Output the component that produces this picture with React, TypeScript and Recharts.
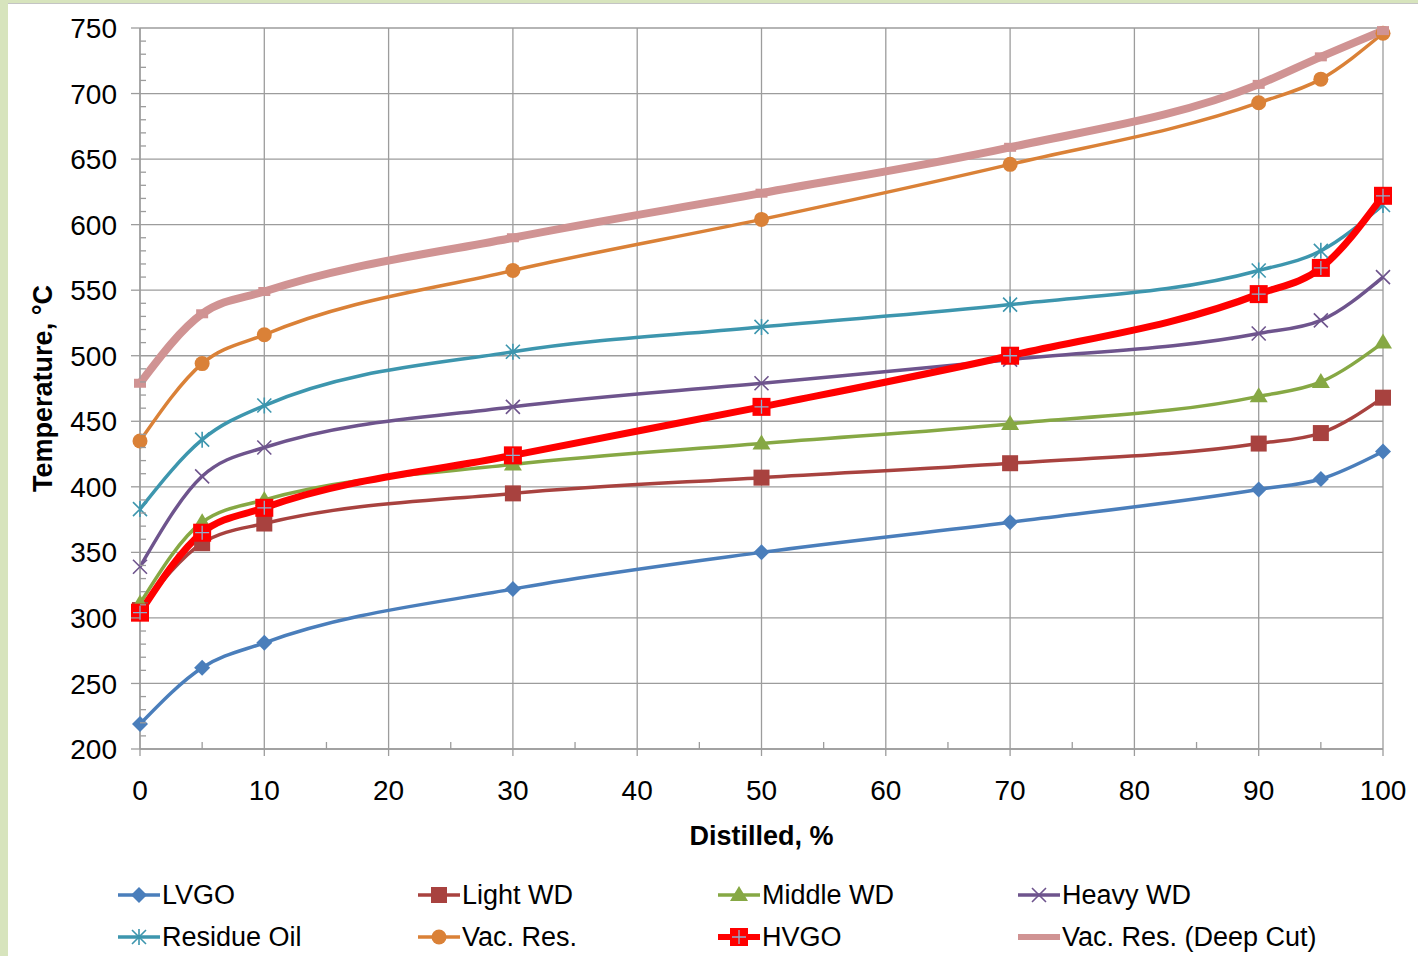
import React from 'react';
import { LineChart, Line, XAxis, YAxis, CartesianGrid } from 'recharts';

// distillation curves
const distilled = [0, 5, 10, 30, 50, 70, 90, 95, 100];
const lvgo = [219, 262, 281, 322, 350, 373, 398, 406, 427];
const lightWd = [306, 357, 372, 395, 407, 418, 433, 441, 468];
const middleWd = [311, 373, 390, 417, 433, 448, 469, 480, 510];
const heavyWd = [339, 408, 430, 461, 479, 497, 517, 527, 560];
const residueOil = [383, 436, 462, 503, 522, 539, 565, 580, 615];
const vacRes = [435, 494, 516, 565, 604, 646, 693, 711, 746];
const hvgo = [304, 365, 384, 424, 461, 500, 547, 567, 622];
const vacResDeep = [479, 532, 549, 590, 624, 659, 707, 728, 748];

const xMajorTicks = [0, 10, 20, 30, 40, 50, 60, 70, 80, 90, 100];
const xAllTicks = [0, 5, 10, 15, 20, 25, 30, 35, 40, 45, 50, 55, 60, 65, 70, 75, 80, 85, 90, 95, 100];
const yMajorTicks = [200, 250, 300, 350, 400, 450, 500, 550, 600, 650, 700, 750];
const yAllTicks = [
  200, 210, 220, 230, 240, 250, 260, 270, 280, 290, 300, 310, 320, 330, 340, 350, 360, 370, 380, 390,
  400, 410, 420, 430, 440, 450, 460, 470, 480, 490, 500, 510, 520, 530, 540, 550, 560, 570, 580, 590,
  600, 610, 620, 630, 640, 650, 660, 670, 680, 690, 700, 710, 720, 730, 740, 750,
];

const series = [
  { key: 'lvgo', name: 'LVGO', values: lvgo, color: '#4A7EBB', width: 3.5, marker: 'diamond' },
  { key: 'lightWd', name: 'Light WD', values: lightWd, color: '#A8423F', width: 3.5, marker: 'square' },
  { key: 'middleWd', name: 'Middle WD', values: middleWd, color: '#86A844', width: 3.5, marker: 'triangle' },
  { key: 'heavyWd', name: 'Heavy WD', values: heavyWd, color: '#6E548D', width: 3.5, marker: 'x' },
  { key: 'residueOil', name: 'Residue Oil', values: residueOil, color: '#3D96AE', width: 3.5, marker: 'star' },
  { key: 'vacRes', name: 'Vac. Res.', values: vacRes, color: '#DA8137', width: 3.5, marker: 'circle' },
  { key: 'hvgo', name: 'HVGO', values: hvgo, color: '#FF0000', width: 7, marker: 'plus' },
  { key: 'vacResDeep', name: 'Vac. Res. (Deep Cut)', values: vacResDeep, color: '#D09393', width: 8, marker: 'dash' },
];

const rows = distilled.map((d, i) => {
  const row: Record<string, number> = { x: d };
  series.forEach((s) => { row[s.key] = s.values[i]; });
  return row;
});

const FONT = '"Liberation Sans", Arial, sans-serif';
const GRID = '#9c9c9c';
const W = 1418;
const H = 956;
const PLOT_LEFT = 140;
const PLOT_BOTTOM = 749;

const marker = (type: string, cx: number, cy: number, color: string, key?: string) => {
  switch (type) {
    case 'diamond':
      return <path key={key} d={`M${cx},${cy - 8}L${cx + 8},${cy}L${cx},${cy + 8}L${cx - 8},${cy}Z`} fill={color} />;
    case 'square':
      return <rect key={key} x={cx - 8} y={cy - 8} width={16} height={16} fill={color} />;
    case 'triangle':
      return <path key={key} d={`M${cx},${cy - 9}L${cx + 9},${cy + 6}L${cx - 9},${cy + 6}Z`} fill={color} />;
    case 'x':
      return (
        <path key={key} d={`M${cx - 7},${cy - 7}L${cx + 7},${cy + 7}M${cx - 7},${cy + 7}L${cx + 7},${cy - 7}`}
          stroke={color} strokeWidth={1.6} fill="none" />
      );
    case 'star':
      return (
        <path key={key}
          d={`M${cx - 7},${cy - 7}L${cx + 7},${cy + 7}M${cx - 7},${cy + 7}L${cx + 7},${cy - 7}M${cx},${cy - 8}L${cx},${cy + 8}`}
          stroke={color} strokeWidth={1.6} fill="none" />
      );
    case 'circle':
      return <circle key={key} cx={cx} cy={cy} r={7.5} fill={color} />;
    case 'plus':
      return (
        <g key={key}>
          <rect x={cx - 9} y={cy - 9} width={18} height={18} fill={color} />
          <path d={`M${cx - 7},${cy}L${cx + 7},${cy}M${cx},${cy - 7}L${cx},${cy + 7}`} stroke="#8FB0D0" strokeWidth={1.3} />
        </g>
      );
    case 'dash':
      return <rect key={key} x={cx - 6} y={cy - 4.5} width={12} height={9} fill={color} />;
    default:
      return <g key={key} />;
  }
};

const YTick = ({ y, payload }: any) => {
  const v = payload.value;
  const major = v % 50 === 0;
  return (
    <g>
      {major ? (
        <line x1={PLOT_LEFT - 9} x2={PLOT_LEFT} y1={y} y2={y} stroke={GRID} strokeWidth={1.3} />
      ) : (
        <line x1={PLOT_LEFT} x2={PLOT_LEFT + 6} y1={y} y2={y} stroke={GRID} strokeWidth={1.3} />
      )}
      {major && (
        <text x={PLOT_LEFT - 23} y={y} dy="0.36em" textAnchor="end" fontSize={28} fontFamily={FONT} fill="#000">
          {v}
        </text>
      )}
    </g>
  );
};

const XTick = ({ x, payload }: any) => {
  const v = payload.value;
  const major = v % 10 === 0;
  return (
    <g>
      {major ? (
        <line x1={x} x2={x} y1={PLOT_BOTTOM} y2={PLOT_BOTTOM + 7} stroke={GRID} strokeWidth={1.3} />
      ) : (
        <line x1={x} x2={x} y1={PLOT_BOTTOM - 7} y2={PLOT_BOTTOM} stroke={GRID} strokeWidth={1.3} />
      )}
      {major && (
        <text x={x} y={790} dy="0.36em" textAnchor="middle" fontSize={28} fontFamily={FONT} fill="#000">
          {v}
        </text>
      )}
    </g>
  );
};

const LegendBlock = () => (
  <div style={{ position: 'absolute', left: 117, top: 874, width: 1200 }}>
    {series.map((s, i) => (
      <div
        key={s.key}
        style={{
          position: 'absolute',
          left: (i % 4) * 300,
          top: Math.floor(i / 4) * 42,
          height: 42,
          display: 'flex',
          alignItems: 'center',
          whiteSpace: 'nowrap',
        }}
      >
        <svg width={45} height={24} style={{ display: 'block' }}>
          <line x1={1} x2={43} y1={12} y2={12} stroke={s.color} strokeWidth={Math.min(s.width, 6)} />
          {s.marker !== 'dash' && marker(s.marker, 22, 12, s.color)}
        </svg>
        <span style={{ fontFamily: FONT, fontSize: 27, color: '#000' }}>{s.name}</span>
      </div>
    ))}
  </div>
);

export default function App() {
  return (
    <div style={{ position: 'relative', width: W, height: H, background: '#fff', overflow: 'hidden' }}>
      <style>{'body{margin:0}'}</style>
      <div style={{ position: 'absolute', left: 0, top: 0, width: W, height: 3, background: '#D7E4BD', borderBottom: '1px solid #c4c4c4' }} />
      <div style={{ position: 'absolute', left: 0, top: 0, width: 8, height: H, background: '#D7E4BD' }} />
      <div style={{ position: 'absolute', left: 0, top: 0 }}>
        <LineChart width={W} height={H} data={rows} margin={{ top: 28, right: 35, left: 60, bottom: 107 }}>
          <CartesianGrid
            stroke={GRID}
            strokeWidth={1.3}
            horizontalValues={yMajorTicks}
            verticalValues={xMajorTicks}
          />
          <XAxis
            dataKey="x"
            type="number"
            domain={[0, 100]}
            ticks={xAllTicks}
            interval={0}
            height={100}
            tickLine={false}
            axisLine={{ stroke: GRID, strokeWidth: 1.3 }}
            tick={<XTick />}
            label={{
              content: ({ viewBox }: any) => (
                <text
                  x={viewBox.x + viewBox.width / 2}
                  y={835}
                  dy="0.36em"
                  textAnchor="middle"
                  fontSize={27}
                  fontWeight="bold"
                  fontFamily={FONT}
                  fill="#000"
                >
                  Distilled, %
                </text>
              ),
            }}
          />
          <YAxis
            type="number"
            domain={[200, 750]}
            ticks={yAllTicks}
            interval={0}
            width={80}
            tickLine={false}
            axisLine={{ stroke: GRID, strokeWidth: 1.3 }}
            tick={<YTick />}
            label={{
              content: ({ viewBox }: any) => {
                const cy = viewBox.y + viewBox.height / 2;
                return (
                  <text
                    x={42}
                    y={cy}
                    dy="0.36em"
                    textAnchor="middle"
                    transform={`rotate(-90, 42, ${cy})`}
                    fontSize={27}
                    fontWeight="bold"
                    fontFamily={FONT}
                    fill="#000"
                  >
                    Temperature, °C
                  </text>
                );
              },
            }}
          />
          {series.map((s) => (
            <Line
              key={s.key}
              dataKey={s.key}
              name={s.name}
              type="monotone"
              stroke={s.color}
              strokeWidth={s.width}
              isAnimationActive={false}
              dot={(p: any) => marker(s.marker, p.cx, p.cy, s.color, `${s.key}-${p.index}`)}
              activeDot={false}
            />
          ))}
        </LineChart>
      </div>
      <LegendBlock />
    </div>
  );
}
